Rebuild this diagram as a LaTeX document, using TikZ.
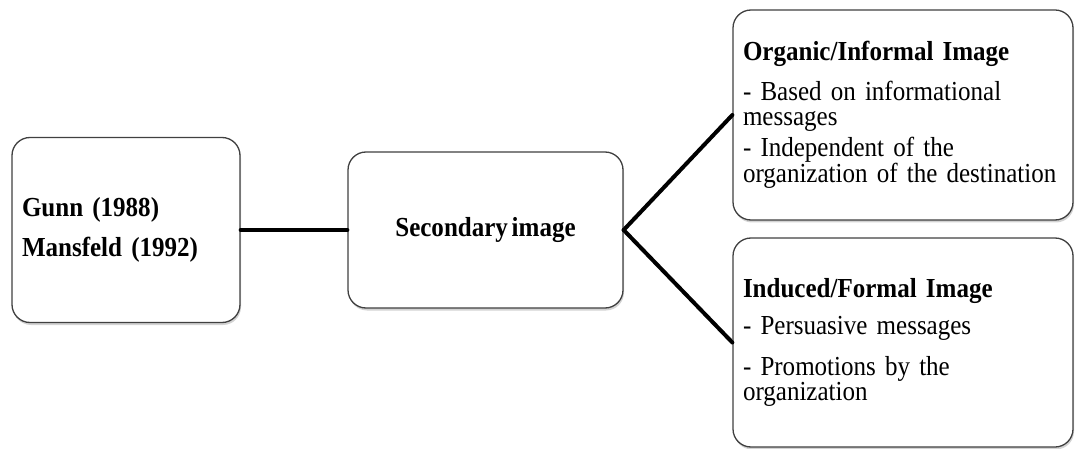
\documentclass[tikz,border=0pt]{standalone}
\usepackage{fontspec}
\setmainfont[FakeStretch=0.91,WordSpace={0.6,0,0}]{Liberation Serif}
\usepackage{tikz}
\usetikzlibrary{shadows}

\begin{document}
\begin{tikzpicture}[x=1pt,y=-1pt]
    \tikzset{box/.style = {shape=rectangle,rounded corners=18pt,draw=black!75,line width=1.3pt,fill=white,
        drop shadow={shadow xshift=1pt,shadow yshift=-2.5pt,opacity=0.35},
        font=\fontsize{27.5}{25}\selectfont,inner sep=10pt}}
    \tikzset{edge/.style = {-,line width=4pt,line cap=round}}

    \useasboundingbox (0,0) rectangle (1076,449);

    % vertices

    \node[box,minimum width=228pt,minimum height=185pt,text width=208pt,align=left] (gunn) at (126,230)
        {\textbf{Gunn (1988)}\\[14pt]\textbf{Mansfeld (1992)}};

    \node[box,minimum width=275pt,minimum height=156pt,align=center] (second) at (485.5,230)
        {\textbf{Secondary image}};

    \node[box,minimum width=340pt,minimum height=210pt,text width=320pt,align=left] (organic) at (903,115)
        {\textbf{Organic/Informal Image}\\[13pt]- Based on informational\\messages\\[5pt]- Independent of the\\organization of the destination};

    \node[box,minimum width=340pt,minimum height=209pt,text width=320pt,align=left] (induced) at (903,342.5)
        {\textbf{Induced/Formal Image}\\[12pt]- Persuasive messages\\[15pt]- Promotions by the\\organization};

    \draw[edge] (gunn) to (second);
    \draw[edge] (second.east) to (organic.west);
    \draw[edge] (second.east) to (induced.west);
\end{tikzpicture}
\end{document}
